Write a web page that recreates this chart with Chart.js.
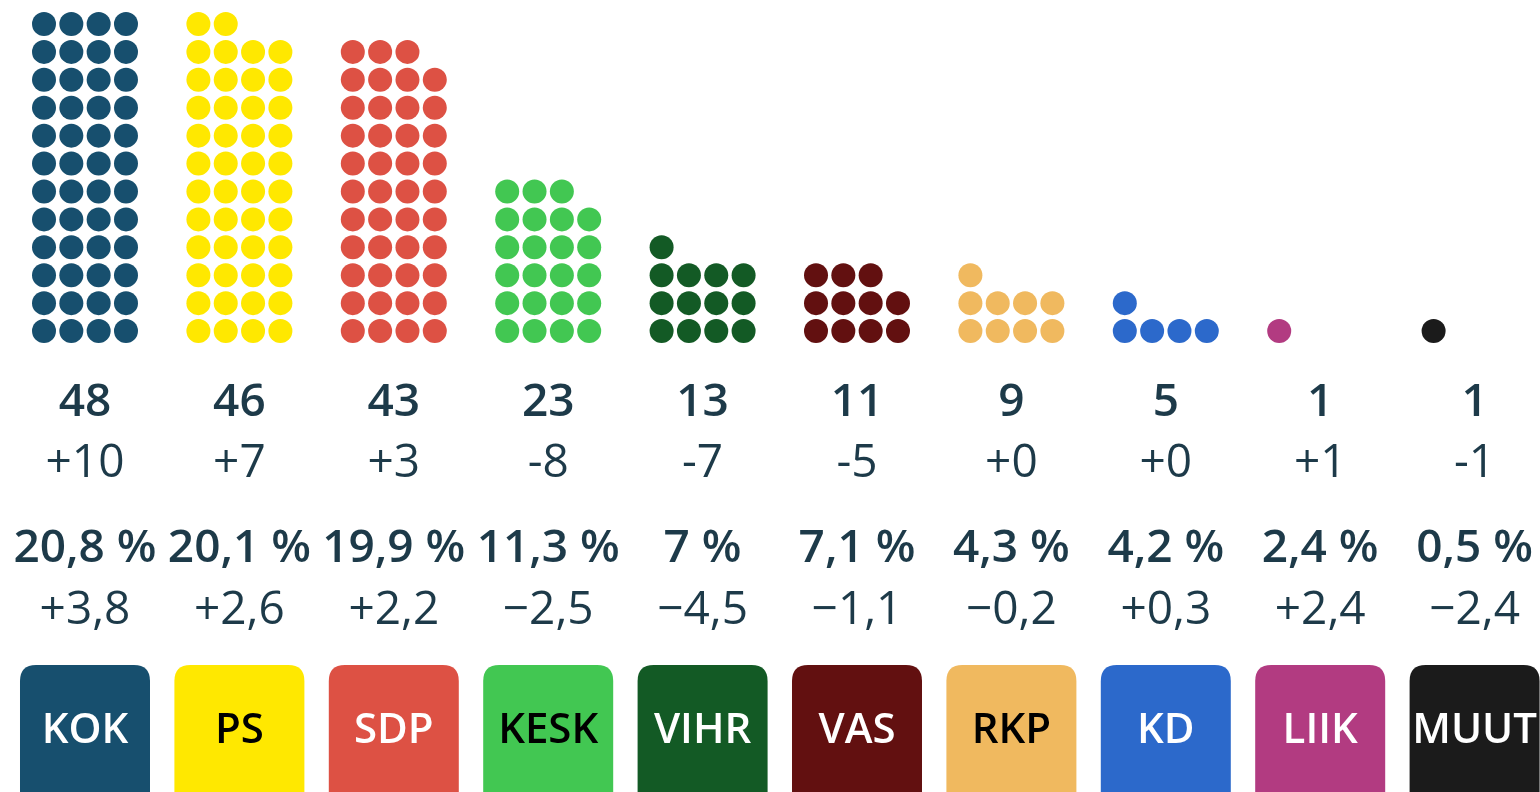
<!DOCTYPE html>
<html>
<head>
<meta charset="utf-8">
<script src="https://cdn.jsdelivr.net/npm/chart.js@4.4.1/dist/chart.umd.min.js"></script>
<style>
    html, body { margin: 0; padding: 0; background: #ffffff; }
    #wrap { width: 1540px; height: 792px; position: relative; }
</style>
</head>
<body>
<div id="wrap"><canvas id="seats"></canvas></div>
<script>
// Party data (eduskuntavaalit)
const parties = ['KOK', 'PS', 'SDP', 'KESK', 'VIHR', 'VAS', 'RKP', 'KD', 'LIIK', 'MUUT'];
const seats = [48, 46, 43, 23, 13, 11, 9, 5, 1, 1];
const seatChange = [10, 7, 3, -8, -7, -5, 0, 0, 1, -1];
const share = [20.8, 20.1, 19.9, 11.3, 7, 7.1, 4.3, 4.2, 2.4, 0.5];
const shareChange = [3.8, 2.6, 2.2, -2.5, -4.5, -1.1, -0.2, 0.3, 2.4, -2.4];
const partyColors = ['#174f6e', '#ffe800', '#dd5144', '#42c752', '#135a25', '#621010', '#f0b95f', '#2c69cb', '#b23b81', '#1b1b1b'];
const badgeText = ['#ffffff', '#000000', '#ffffff', '#000000', '#ffffff', '#ffffff', '#000000', '#ffffff', '#ffffff', '#ffffff'];

const TEXT = '#1d3a49';
const FONT = '"Open Sans", "Noto Sans", sans-serif';
const DOTS_PER_ROW = 4;
const DOT_STEP = 0.177; // horizontal dot pitch in category units

function fmtNum(v) {
    return String(v).replace('.', ',');
}

function fmtSeatChange(v) {
    return (v < 0 ? '-' : '+') + Math.abs(v);
}

function fmtShareChange(v) {
    return (v < 0 ? '\u2212' : '+') + fmtNum(Math.abs(v));
}

// one dataset per party, dots stacked from the bottom, 4 per row
const datasets = parties.map((p, i) => {
    const pts = [];
    for (let k = 0; k < seats[i]; k++) {
        const col = k % DOTS_PER_ROW;
        const row = Math.floor(k / DOTS_PER_ROW);
        pts.push({ x: i + (col - 1.5) * DOT_STEP, y: row });
    }
    return {
        label: p,
        data: pts,
        backgroundColor: partyColors[i],
        borderWidth: 0,
        pointRadius: 12,
        pointHoverRadius: 12
    };
});

function roundRect(ctx, x, y, w, h, r) {
    ctx.beginPath();
    ctx.moveTo(x + r, y);
    ctx.lineTo(x + w - r, y);
    ctx.quadraticCurveTo(x + w, y, x + w, y + r);
    ctx.lineTo(x + w, y + h - r);
    ctx.quadraticCurveTo(x + w, y + h, x + w - r, y + h);
    ctx.lineTo(x + r, y + h);
    ctx.quadraticCurveTo(x, y + h, x, y + h - r);
    ctx.lineTo(x, y + r);
    ctx.quadraticCurveTo(x, y, x + r, y);
    ctx.closePath();
}

// labels and party badges under the dot columns
const labelsPlugin = {
    id: 'partyLabels',
    afterDraw(chart) {
        const ctx = chart.ctx;
        const xs = chart.scales.x;
        ctx.save();
        ctx.textAlign = 'center';
        ctx.textBaseline = 'middle';
        parties.forEach((p, i) => {
            const cx = xs.getPixelForValue(i);
            ctx.fillStyle = TEXT;
            ctx.font = '600 46px ' + FONT;
            ctx.fillText(String(seats[i]), cx, 403);
            ctx.font = '400 46px ' + FONT;
            ctx.fillText(fmtSeatChange(seatChange[i]), cx, 464);
            ctx.font = '600 46px ' + FONT;
            ctx.fillText(fmtNum(share[i]) + ' %', cx, 549);
            ctx.font = '400 46px ' + FONT;
            ctx.fillText(fmtShareChange(shareChange[i]), cx, 611);

            // badge
            ctx.fillStyle = partyColors[i];
            roundRect(ctx, cx - 65, 665, 130, 150, 16);
            ctx.fill();
            ctx.fillStyle = badgeText[i];
            ctx.font = '600 42px ' + FONT;
            ctx.fillText(p, cx, 731);
        });
        ctx.restore();
    }
};

new Chart(document.getElementById('seats'), {
    type: 'scatter',
    data: { datasets: datasets },
    options: {
        responsive: true,
        maintainAspectRatio: false,
        animation: false,
        events: [],
        layout: { autoPadding: false, padding: { top: 10, bottom: 447, left: 0, right: 0 } },
        plugins: {
            legend: { display: false },
            tooltip: { enabled: false }
        },
        scales: {
            x: { type: 'linear', min: -0.5505, max: 9.4236, display: false },
            y: { type: 'linear', min: -0.5, max: 11.5, display: false }
        }
    },
    plugins: [labelsPlugin]
});
</script>
</body>
</html>
